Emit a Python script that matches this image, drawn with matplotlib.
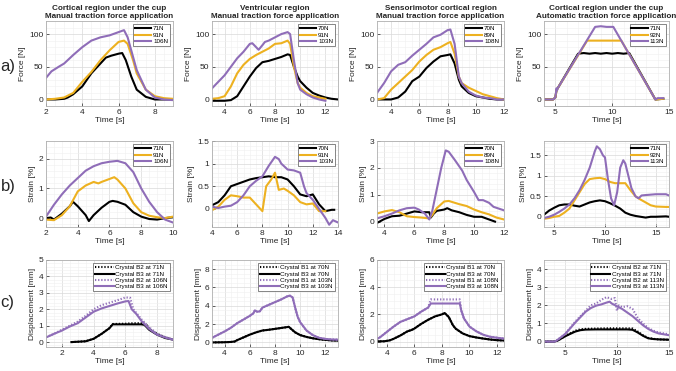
import matplotlib
matplotlib.use("Agg")
import matplotlib.pyplot as plt
from matplotlib.ticker import AutoMinorLocator

plt.rcParams['font.family'] = ['Liberation Sans', 'DejaVu Sans']

BLACK = '#000000'
ORANGE = '#EDB120'
PURPLE = '#8F6DB8'
TXT = '#262626'

col_titles = ["Cortical region under the cup\nManual traction force application",
              "Ventricular region\nManual traction force application",
              "Sensorimotor cortical region\nManual traction force application",
              "Cortical region under the cup\nAutomatic traction force application"]
row_labels = ["a)", "b)", "c)"]

# ---------------- Row a: Force [N] ----------------
a1_t_71 = [2, 2.5, 3, 3.2, 3.5, 4, 4.5, 5, 5.3, 5.6, 6, 6.2, 6.4, 6.7, 7, 7.5, 8, 8.5, 9]
a1_f_71 = [0, 0, 1, 3, 8, 20, 40, 55, 64, 67, 70, 71, 60, 35, 15, 4, 0, 0, 0]
a1_t_91 = [2, 2.5, 3, 3.5, 4, 4.5, 5, 5.5, 6, 6.3, 6.5, 6.8, 7, 7.5, 8, 8.5, 9]
a1_f_91 = [0, 1, 3, 10, 27, 42, 60, 75, 88, 90, 85, 60, 40, 15, 5, 2, 1]
a1_t_106 = [2, 2.3, 2.7, 3, 3.5, 4, 4.5, 5, 5.5, 6, 6.3, 6.5, 6.8, 7, 7.5, 8, 8.5, 9]
a1_f_106 = [33, 43, 50, 55, 68, 80, 90, 95, 98, 103, 106, 95, 65, 45, 15, 3, 0, -1]

a2_t_70 = [3, 4, 4.5, 5, 5.5, 6, 6.5, 7, 7.5, 8, 8.5, 9, 9.2, 9.5, 9.8, 10, 10.5, 11, 11.5, 12, 12.5, 13]
a2_f_70 = [-2, -2, -1, 5, 20, 35, 48, 57, 59, 62, 65, 69, 68, 50, 35, 28, 18, 10, 6, 3, 1, 0]
a2_t_91 = [3, 3.5, 4, 4.5, 5, 5.5, 6, 6.5, 7, 7.5, 8, 8.5, 9, 9.2, 9.5, 9.8, 10, 10.5, 11, 11.5, 12]
a2_f_91 = [1, 2, 5, 20, 40, 53, 62, 68, 73, 78, 85, 86, 90, 85, 50, 25, 18, 10, 5, 3, 1]
a2_t_103 = [3, 3.5, 4, 4.5, 5, 5.5, 6, 6.2, 6.5, 6.7, 7, 7.2, 7.5, 8, 8.5, 9, 9.2, 9.5, 9.8, 10, 10.5, 11, 11.5, 12]
a2_f_103 = [17, 27, 37, 50, 63, 73, 85, 86, 80, 76, 83, 88, 90, 95, 100, 103, 100, 60, 25, 15, 8, 3, 0, -2]

a3_t_70 = [3, 3.5, 4, 4.5, 5, 5.5, 6, 6.5, 7, 7.5, 8, 8.2, 8.5, 8.8, 9, 9.5, 10, 10.5, 11, 11.5, 12]
a3_f_70 = [0, 0, 0, 3, 12, 28, 35, 48, 58, 66, 68, 69, 55, 30, 20, 10, 5, 3, 1, 0, 0]
a3_t_89 = [3, 3.5, 4, 4.5, 5, 5.5, 6, 6.5, 7, 7.5, 8, 8.2, 8.5, 8.8, 9, 9.5, 10, 10.5, 11, 11.5, 12]
a3_f_89 = [0, 2, 15, 25, 35, 45, 58, 68, 76, 80, 86, 88, 70, 35, 25, 18, 13, 8, 5, 2, 0]
a3_t_108 = [3, 3.5, 4, 4.5, 5, 5.5, 6, 6.5, 7, 7.5, 8, 8.2, 8.5, 8.8, 9, 9.5, 10, 10.5, 11, 11.5, 12]
a3_f_108 = [10, 25, 43, 53, 57, 67, 76, 85, 95, 99, 106, 107, 85, 35, 25, 12, 6, 3, 2, 0, 0]

a4_t_71 = [4, 4.8, 5, 5.1, 5.2, 7.0, 7.5, 8, 8.5, 9, 9.5, 10, 10.5, 11, 11.5, 13.8, 14.5]
a4_f_71 = [0, 0, 3, 14, 17, 70, 71, 70, 71, 70, 71, 70, 71, 70, 71, 0, 1]
a4_t_92 = [4, 4.8, 5, 5.1, 5.2, 7.8, 10.8, 13.8, 14.5]
a4_f_92 = [0, 0, 3, 14, 17, 90, 90, 0, 1]
a4_t_113 = [4, 4.8, 5, 5.1, 5.15, 5.2, 8.5, 9.0, 9.5, 10.1, 13.8, 14.0, 14.5]
a4_f_113 = [0, 0, 3, 17, 14, 17, 111, 112, 111, 111, 0, 2, 2]

# ---------------- Row b: Strain [%] ----------------
b1_t_71 = [2, 2.3, 2.5, 3, 3.5, 3.7, 4, 4.5, 4.7, 5, 5.5, 6, 6.2, 6.5, 7, 7.5, 8, 8.5, 9, 9.5, 10]
b1_s_71 = [0, 0.02, -0.05, 0.15, 0.4, 0.55, 0.4, 0.1, -0.1, 0.1, 0.35, 0.55, 0.58, 0.55, 0.45, 0.2, 0.05, -0.03, -0.05, 0, 0.03]
b1_t_91 = [2, 2.5, 3, 3.5, 4, 4.5, 5, 5.3, 5.5, 6, 6.3, 6.5, 7, 7.5, 8, 8.5, 9, 9.5, 10]
b1_s_91 = [-0.05, -0.07, 0.1, 0.4, 0.9, 1.1, 1.22, 1.17, 1.22, 1.32, 1.38, 1.3, 1.0, 0.5, 0.2, 0.08, 0.03, 0.0, 0.05]
b1_t_106 = [2, 2.5, 3, 3.5, 4, 4.5, 5, 5.5, 6, 6.5, 7, 7.5, 8, 8.5, 9, 9.5, 10]
b1_s_106 = [0.05, 0.45, 0.8, 1.1, 1.35, 1.6, 1.75, 1.85, 1.9, 1.93, 1.85, 1.55, 1.0, 0.55, 0.2, -0.05, -0.15]

b2_t_70 = [4, 4.5, 5, 5.5, 6, 6.5, 7, 7.5, 8, 8.5, 9, 9.5, 10, 10.5, 11, 11.5, 12, 12.5, 13, 13.5, 13.7]
b2_s_70 = [0.08, 0.15, 0.3, 0.5, 0.55, 0.6, 0.65, 0.68, 0.7, 0.72, 0.7, 0.7, 0.65, 0.5, 0.32, 0.28, 0.32, 0.1, -0.05, -0.02, -0.02]
b2_t_91 = [4, 4.5, 5, 5.5, 6, 6.5, 7, 7.5, 8, 8.3, 8.7, 9, 9.3, 9.7, 10, 10.5, 11, 11.5, 12, 12.5, 13]
b2_s_91 = [-0.03, 0.05, 0.2, 0.3, 0.28, 0.25, 0.25, 0.1, -0.05, 0.5, 0.65, 0.8, 0.42, 0.45, 0.4, 0.3, 0.15, 0.1, 0.12, -0.05, -0.05]
b2_t_103 = [4, 4.5, 5, 5.5, 6, 6.5, 7, 7.5, 8, 8.5, 9, 9.3, 9.5, 10, 10.5, 11, 11.3, 11.5, 12, 12.5, 13, 13.3, 13.6, 14]
b2_s_103 = [0.05, 0.02, 0.05, 0.07, 0.15, 0.3, 0.5, 0.62, 0.72, 0.95, 1.15, 1.1, 1.0, 0.87, 0.85, 0.8, 0.5, 0.35, 0.2, 0.0, -0.2, -0.35, -0.25, -0.3]

b3_t_70 = [3.5, 4, 4.5, 5, 5.5, 6, 6.5, 7, 7.1, 7.3, 7.5, 8, 8.2, 8.5, 9, 9.5, 10, 10.5, 11, 11.4]
b3_s_70 = [-0.05, 0.1, 0.2, 0.22, 0.3, 0.38, 0.35, 0.35, 0.15, 0.3, 0.4, 0.45, 0.5, 0.42, 0.35, 0.25, 0.18, 0.18, 0.08, 0.0]
b3_t_89 = [3.5, 4, 4.5, 5, 5.5, 6, 6.5, 7, 7.2, 7.5, 8, 8.3, 9, 9.5, 10, 10.5, 11, 11.5, 12]
b3_s_89 = [0.3, 0.38, 0.43, 0.35, 0.2, 0.17, 0.15, 0.12, 0.25, 0.5, 0.75, 0.77, 0.65, 0.58, 0.45, 0.35, 0.27, 0.15, 0.08]
b3_t_108 = [3.5, 4, 4.5, 5, 5.5, 6, 6.3, 6.7, 7, 7.2, 7.5, 7.8, 8.1, 8.3, 8.7, 9.2, 9.5, 10, 10.3, 10.6, 11, 11.3, 12]
b3_s_108 = [0.12, 0.2, 0.3, 0.42, 0.5, 0.52, 0.45, 0.3, 0.08, 0.4, 1.2, 2.0, 2.65, 2.6, 2.3, 1.9, 1.55, 1.1, 0.8, 0.8, 0.7, 0.55, 0.42]

b4_t_71 = [4, 4.5, 5, 5.5, 6, 6.5, 7, 7.5, 8, 8.5, 9, 9.5, 10, 10.5, 11, 11.5, 12, 12.5, 13, 13.5, 14, 14.5, 15, 16, 16.3]
b4_s_71 = [0.05, 0.15, 0.22, 0.28, 0.3, 0.3, 0.27, 0.25, 0.3, 0.35, 0.38, 0.4, 0.38, 0.33, 0.27, 0.2, 0.1, 0.05, 0.02, 0.0, -0.02, 0.0, 0.0, 0.01, 0.0]
b4_t_92 = [4, 4.5, 5, 5.5, 6, 6.5, 7, 7.5, 8, 8.5, 9, 9.5, 10, 10.5, 11, 11.5, 12, 12.5, 13, 13.5, 14, 14.5, 15, 16, 16.3]
b4_s_92 = [-0.05, -0.03, 0.0, 0.02, 0.1, 0.2, 0.4, 0.6, 0.8, 0.92, 0.94, 0.95, 0.92, 0.85, 0.82, 0.82, 0.82, 0.65, 0.5, 0.42, 0.35, 0.28, 0.25, 0.24, 0.24]
b4_t_113 = [4, 4.5, 5, 5.5, 6, 6.5, 7, 7.5, 8, 8.5, 9, 9.2, 9.5, 9.8, 10, 10.3, 10.6, 10.9, 11.2, 11.5, 11.8, 12, 12.3, 12.6, 13, 13.3, 13.6, 14, 15, 16, 16.3]
b4_s_113 = [-0.03, 0.0, 0.05, 0.12, 0.2, 0.3, 0.45, 0.65, 0.9, 1.2, 1.6, 1.72, 1.65, 1.5, 1.45, 0.9, 0.45, 0.28, 0.6, 1.2, 1.38, 1.3, 1.0, 0.7, 0.5, 0.45, 0.52, 0.53, 0.55, 0.55, 0.52]

# ---------------- Row c: Displacement [mm] ----------------
c1_t_b2_71 = [2.6, 3, 3.5, 4, 4.5, 5, 5.2, 6, 6.5, 7, 7.3, 7.5, 8, 8.5, 9]
c1_d_b2_71 = [0, 0.02, 0.05, 0.2, 0.5, 0.85, 1.1, 1.12, 1.15, 1.15, 1.1, 0.8, 0.5, 0.3, 0.15]
c1_t_b3_71 = [2.6, 3, 3.5, 4, 4.5, 5, 5.2, 6, 7, 7.2, 7.5, 8, 8.5, 9]
c1_d_b3_71 = [0, 0.02, 0.05, 0.2, 0.5, 0.85, 1.08, 1.08, 1.08, 1.05, 0.75, 0.45, 0.25, 0.15]
c1_t_b2_106 = [1, 1.5, 2, 2.5, 3, 3.5, 4, 4.5, 5, 5.5, 6, 6.3, 6.5, 7, 7.5, 8, 8.5, 9]
c1_d_b2_106 = [0.3, 0.5, 0.75, 1.0, 1.25, 1.6, 2.0, 2.25, 2.4, 2.55, 2.72, 2.7, 2.0, 1.4, 0.9, 0.5, 0.3, 0.15]
c1_t_b3_106 = [1, 1.5, 2, 2.5, 3, 3.5, 4, 4.5, 5, 5.5, 6, 6.2, 6.4, 6.7, 7, 7.5, 8, 8.5, 9]
c1_d_b3_106 = [0.28, 0.5, 0.7, 0.95, 1.15, 1.5, 1.85, 2.05, 2.2, 2.35, 2.48, 2.5, 2.0, 1.7, 1.3, 0.8, 0.45, 0.28, 0.15]

c2_t_70 = [3, 4, 4.5, 4.8, 5, 5.5, 6, 6.5, 7, 7.5, 8, 8.5, 9, 9.1, 9.3, 9.6, 10, 10.5, 11, 11.5, 12, 12.5, 13]
c2_d_b1_70 = [0, 0.02, 0.05, 0.1, 0.25, 0.55, 0.85, 1.1, 1.3, 1.38, 1.48, 1.58, 1.68, 1.7, 1.45, 1.1, 0.8, 0.6, 0.45, 0.35, 0.28, 0.22, 0.2]
c2_d_b3_70 = [0, 0.02, 0.05, 0.1, 0.25, 0.55, 0.85, 1.1, 1.3, 1.38, 1.48, 1.58, 1.68, 1.7, 1.45, 1.1, 0.8, 0.6, 0.45, 0.35, 0.28, 0.22, 0.2]
c2_t_103 = [3, 3.5, 4, 4.5, 5, 5.5, 6, 6.3, 6.4, 6.6, 6.8, 7, 7.5, 8, 8.5, 9, 9.2, 9.4, 9.6, 9.8, 10, 10.5, 11, 11.5, 12, 12.5, 13]
c2_d_b1_103 = [0.5, 0.85, 1.2, 1.6, 2.1, 2.5, 2.9, 3.2, 3.5, 3.35, 3.4, 3.8, 4.1, 4.4, 4.7, 5.05, 5.1, 4.9, 3.8, 2.8, 2.2, 1.3, 0.8, 0.5, 0.38, 0.32, 0.3]
c2_d_b3_103 = [0.5, 0.85, 1.2, 1.6, 2.1, 2.5, 2.9, 3.2, 3.5, 3.35, 3.4, 3.8, 4.1, 4.4, 4.7, 5.05, 5.1, 4.9, 3.8, 2.8, 2.2, 1.3, 0.8, 0.5, 0.38, 0.32, 0.3]

c3_t_70 = [3.3, 3.8, 4.2, 4.5, 5, 5.5, 5.8, 6, 6.5, 7, 7.5, 8, 8.2, 8.5, 8.8, 9, 9.5, 10, 10.5, 11, 11.5, 12, 12.5]
c3_d_b1_70 = [0.02, 0.02, 0.08, 0.2, 0.45, 0.75, 0.85, 0.95, 1.3, 1.6, 1.85, 2.0, 2.1, 1.8, 1.2, 0.95, 0.6, 0.4, 0.3, 0.22, 0.15, 0.1, 0.08]
c3_d_b3_70 = [0.02, 0.02, 0.08, 0.2, 0.45, 0.75, 0.85, 0.95, 1.3, 1.6, 1.85, 2.0, 2.1, 1.8, 1.2, 0.95, 0.6, 0.4, 0.3, 0.22, 0.15, 0.1, 0.08]
c3_t_108 = [3.3, 3.5, 4, 4.5, 5, 5.5, 6, 6.5, 7, 7.2, 9.3, 9.4, 9.6, 10, 10.5, 11, 11.5, 12, 12.5]
c3_d_b1_108 = [0.2, 0.3, 0.7, 1.1, 1.45, 1.65, 1.85, 2.2, 2.5, 3.1, 3.1, 2.3, 1.7, 1.1, 0.75, 0.5, 0.35, 0.28, 0.22]
c3_d_b3_108 = [0.2, 0.3, 0.7, 1.1, 1.45, 1.65, 1.85, 2.2, 2.5, 2.8, 2.8, 2.3, 1.7, 1.1, 0.75, 0.5, 0.35, 0.28, 0.22]

c4_t_71 = [3, 4, 4.3, 5, 5.5, 6, 6.5, 7, 8, 9, 10, 11, 11.5, 12, 12.5, 13, 13.5, 14, 15]
c4_d_b2_71 = [0, 0, 0.05, 0.3, 0.45, 0.6, 0.68, 0.7, 0.72, 0.73, 0.73, 0.73, 0.72, 0.55, 0.35, 0.2, 0.15, 0.12, 0.1]
c4_d_b3_71 = [0, 0, 0.05, 0.28, 0.42, 0.55, 0.63, 0.66, 0.67, 0.67, 0.67, 0.67, 0.65, 0.5, 0.32, 0.18, 0.14, 0.12, 0.1]
c4_t_b2_113 = [3, 4, 4.2, 5, 5.5, 6, 6.5, 7, 7.5, 8, 8.5, 9, 9.5, 9.8, 10, 10.2, 10.5, 11, 11.5, 12, 12.5, 13, 13.5, 14, 15]
c4_d_b2_113 = [0, 0, 0.05, 0.4, 0.75, 1.1, 1.4, 1.7, 2.0, 2.1, 2.3, 2.45, 2.35, 2.4, 1.7, 2.0, 1.9, 1.95, 1.8, 1.3, 1.0, 0.75, 0.6, 0.5, 0.4]
c4_t_b3_113 = [3, 4, 4.2, 5, 5.5, 6, 6.5, 7, 7.5, 8, 8.5, 9, 9.3, 9.5, 10, 10.5, 11, 11.5, 12, 12.5, 13, 13.5, 14, 15]
c4_d_b3_113 = [0, 0, 0.05, 0.4, 0.72, 1.05, 1.35, 1.65, 1.85, 1.98, 2.05, 2.15, 2.2, 2.1, 1.95, 1.8, 1.6, 1.4, 1.15, 0.9, 0.7, 0.55, 0.45, 0.35]

fig = plt.figure(figsize=(6.76, 3.71), dpi=100)
W, H = 676.0, 371.0
lefts = [46, 212, 377, 544]
widths = [127, 126, 127, 125]
rows_px = [(21, 106), (141, 227), (260, 347)]
FS = 6.0

def make_ax(r, c):
    top, bot = rows_px[r]
    ax = fig.add_axes([lefts[c] / W, 1 - bot / H, widths[c] / W, (bot - top) / H])
    ax.grid(True, which='major', color='#d9d9d9', lw=0.5)
    ax.grid(True, which='minor', color='#efefef', lw=0.4)
    ax.xaxis.set_minor_locator(AutoMinorLocator())
    ax.yaxis.set_minor_locator(AutoMinorLocator())
    ax.set_axisbelow(True)
    ax.tick_params(which='both', direction='in', labelsize=FS, colors=TXT, length=2, width=0.5, pad=2)
    ax.tick_params(which='minor', length=0)
    for s in ax.spines.values():
        s.set_color('#b0b0b0')
        s.set_linewidth(0.6)
    ax.set_xlabel("Time [s]", fontsize=FS, color=TXT, labelpad=1)
    return ax

LW = 1.5
DOT = (0, (0.6, 0.9))

def leg(ax, labels, hl):
    lg = ax.legend(labels, loc='upper right', fontsize=4.5, handlelength=hl, handletextpad=0.3,
                   borderpad=0.3, labelspacing=0.15, framealpha=1, edgecolor='#555555',
                   fancybox=False, borderaxespad=0.5)
    lg.get_frame().set_linewidth(0.5)

# Row a
force_data = [
    [(a1_t_71, a1_f_71, BLACK), (a1_t_91, a1_f_91, ORANGE), (a1_t_106, a1_f_106, PURPLE), ["71N", "91N", "106N"], (2, 9), [2, 4, 6, 8]],
    [(a2_t_70, a2_f_70, BLACK), (a2_t_91, a2_f_91, ORANGE), (a2_t_103, a2_f_103, PURPLE), ["70N", "91N", "103N"], (3, 13), [4, 6, 8, 10, 12]],
    [(a3_t_70, a3_f_70, BLACK), (a3_t_89, a3_f_89, ORANGE), (a3_t_108, a3_f_108, PURPLE), ["70N", "89N", "108N"], (3, 12), [4, 6, 8, 10, 12]],
    [(a4_t_71, a4_f_71, BLACK), (a4_t_92, a4_f_92, ORANGE), (a4_t_113, a4_f_113, PURPLE), ["71N", "92N", "113N"], (4, 15), [5, 10, 15]],
]
for c, d in enumerate(force_data):
    ax = make_ax(0, c)
    for t, f, col in d[:3]:
        ax.plot(t, f, color=col, lw=LW)
    ax.set_xlim(*d[4]); ax.set_xticks(d[5])
    ax.set_ylim(-10, 120); ax.set_yticks([0, 50, 100])
    ax.set_ylabel("Force [N]", fontsize=FS, color=TXT, labelpad=2)
    leg(ax, d[3], 2.6)
    ax.set_title(col_titles[c], fontsize=5.9, fontweight='bold', color=TXT, pad=2.5, linespacing=1.15)

# Row b
strain_data = [
    [(b1_t_71, b1_s_71, BLACK), (b1_t_91, b1_s_91, ORANGE), (b1_t_106, b1_s_106, PURPLE), ["71N", "91N", "106N"], (2, 10), [2, 4, 6, 8, 10], (-0.3, 2.6), [0, 1, 2]],
    [(b2_t_70, b2_s_70, BLACK), (b2_t_91, b2_s_91, ORANGE), (b2_t_103, b2_s_103, PURPLE), ["70N", "91N", "103N"], (4, 14), [4, 6, 8, 10, 12, 14], (-0.4, 1.5), [0, 0.5, 1, 1.5]],
    [(b3_t_70, b3_s_70, BLACK), (b3_t_89, b3_s_89, ORANGE), (b3_t_108, b3_s_108, PURPLE), ["70N", "89N", "108N"], (3.5, 12), [4, 6, 8, 10, 12], (-0.2, 3), [0, 1, 2, 3]],
    [(b4_t_71, b4_s_71, BLACK), (b4_t_92, b4_s_92, ORANGE), (b4_t_113, b4_s_113, PURPLE), ["71N", "92N", "113N"], (4, 16.3), [5, 10, 15], (-0.25, 1.85), [0, 0.5, 1, 1.5]],
]
for c, d in enumerate(strain_data):
    ax = make_ax(1, c)
    for t, s, col in d[:3]:
        ax.plot(t, s, color=col, lw=LW)
    ax.set_xlim(*d[4]); ax.set_xticks(d[5])
    ax.set_ylim(*d[6]); ax.set_yticks(d[7])
    ax.set_yticklabels([('%g' % v) for v in d[7]])
    ax.set_ylabel("Strain [%]", fontsize=FS, color=TXT, labelpad=2)
    leg(ax, d[3], 2.6)

# Row c
disp_data = [
    [(c1_t_b2_71, c1_d_b2_71, BLACK, DOT), (c1_t_b3_71, c1_d_b3_71, BLACK, '-'),
     (c1_t_b2_106, c1_d_b2_106, PURPLE, DOT), (c1_t_b3_106, c1_d_b3_106, PURPLE, '-'),
     ["Crystal B2 at 71N", "Crystal B3 at 71N", "Crystal B2 at 106N", "Crystal B3 at 106N"],
     (1, 9), [2, 4, 6, 8], (-0.3, 5), [0, 1, 2, 3, 4, 5]],
    [(c2_t_70, c2_d_b1_70, BLACK, DOT), (c2_t_70, c2_d_b3_70, BLACK, '-'),
     (c2_t_103, c2_d_b1_103, PURPLE, DOT), (c2_t_103, c2_d_b3_103, PURPLE, '-'),
     ["Crystal B1 at 70N", "Crystal B3 at 70N", "Crystal B1 at 103N", "Crystal B3 at 103N"],
     (3, 13), [4, 6, 8, 10, 12], (-0.5, 9), [0, 2, 4, 6, 8]],
    [(c3_t_70, c3_d_b1_70, BLACK, DOT), (c3_t_70, c3_d_b3_70, BLACK, '-'),
     (c3_t_108, c3_d_b1_108, PURPLE, DOT), (c3_t_108, c3_d_b3_108, PURPLE, '-'),
     ["Crystal B1 at 70N", "Crystal B3 at 70N", "Crystal B1 at 108N", "Crystal B3 at 108N"],
     (3.3, 12.5), [4, 6, 8, 10, 12], (-0.4, 6), [0, 2, 4, 6]],
    [(c4_t_71, c4_d_b2_71, BLACK, DOT), (c4_t_71, c4_d_b3_71, BLACK, '-'),
     (c4_t_b2_113, c4_d_b2_113, PURPLE, DOT), (c4_t_b3_113, c4_d_b3_113, PURPLE, '-'),
     ["Crystal B2 at 71N", "Crystal B3 at 71N", "Crystal B2 at 113N", "Crystal B3 at 113N"],
     (3, 15), [5, 10, 15], (-0.3, 4.5), [0, 1, 2, 3, 4]],
]
for c, d in enumerate(disp_data):
    ax = make_ax(2, c)
    for t, v, col, ls in d[:4]:
        ax.plot(t, v, color=col, lw=LW, linestyle=ls)
    ax.set_xlim(*d[5]); ax.set_xticks(d[6])
    ax.set_ylim(*d[7]); ax.set_yticks(d[8])
    ax.set_ylabel("Displacement [mm]", fontsize=FS, color=TXT, labelpad=2)
    leg(ax, d[4], 3.0)

# Row labels
for lab, y in zip(row_labels, [66, 186, 302]):
    fig.text(0.5 / W, 1 - y / H, lab, fontsize=12, color=TXT, va='center', ha='left')

fig.savefig("out.png", dpi=100)
